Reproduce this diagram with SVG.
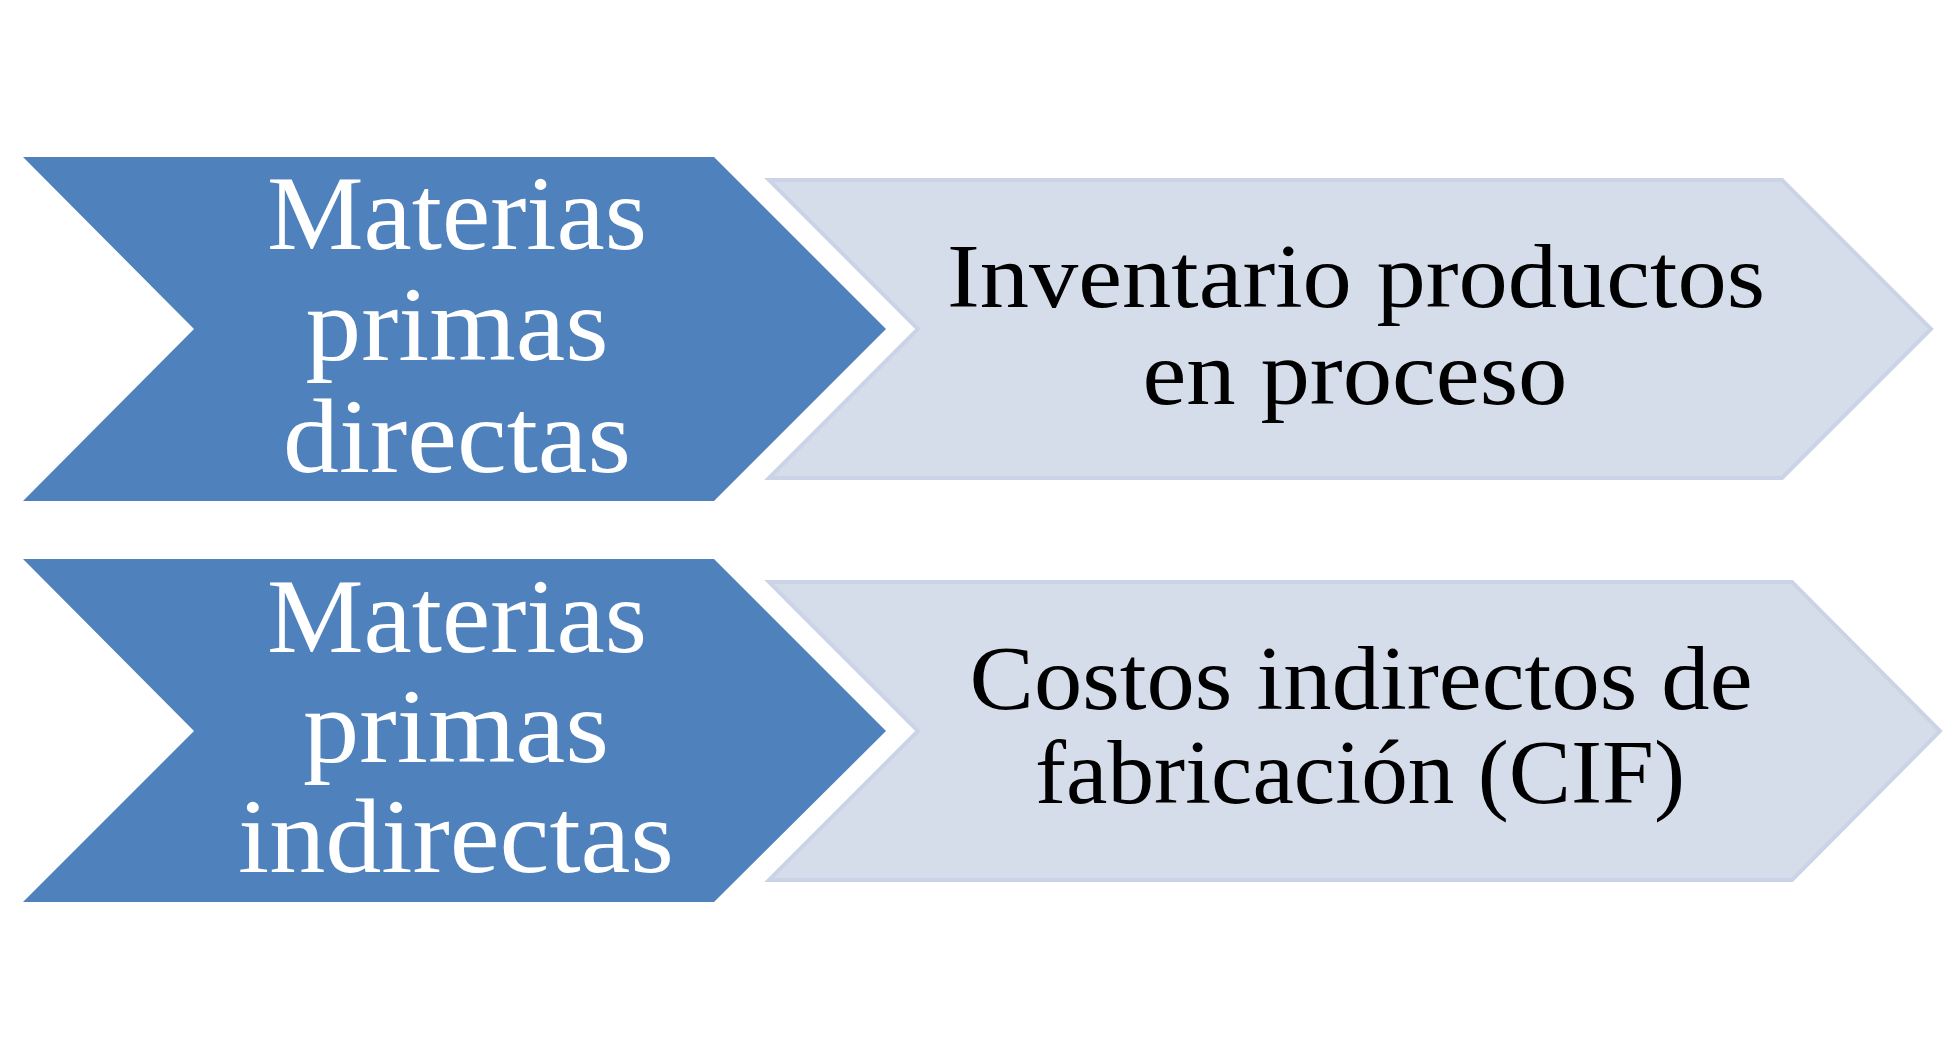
<svg xmlns="http://www.w3.org/2000/svg" width="1943" height="1059" viewBox="0 0 1943 1059">
<style>
.dark{fill:#4F81BD;}
.light{fill:#D6DDEA;stroke:#CBD4E6;stroke-width:4;stroke-linejoin:miter;}
.wt{font-family:"Liberation Serif","Times New Roman",serif;font-size:106px;fill:#FFFFFF;text-anchor:middle;}
.bt{font-family:"Liberation Serif","Times New Roman",serif;font-size:90px;fill:#000000;text-anchor:middle;}
</style>
<rect width="1943" height="1059" fill="#FFFFFF"/>
<g id="node-mpd">
<polygon class="dark" points="23,157 714,157 886,329 714,501 23,501 194,329"/>
<text class="wt" x="457" y="249" textLength="380" lengthAdjust="spacingAndGlyphs">Materias</text>
<text class="wt" x="457" y="360" textLength="303" lengthAdjust="spacingAndGlyphs">primas</text>
<text class="wt" x="457" y="472" textLength="348" lengthAdjust="spacingAndGlyphs">directas</text>
</g>
<g id="node-ipp">
<polygon class="light" points="769,180 1782,180 1931,329 1782,478 769,478 918,329"/>
<text class="bt" x="1356" y="307" textLength="818" lengthAdjust="spacingAndGlyphs">Inventario productos</text>
<text class="bt" x="1355" y="404" textLength="425" lengthAdjust="spacingAndGlyphs">en proceso</text>
</g>
<g id="node-mpi">
<polygon class="dark" points="23,559 714,559 886,731 714,902 23,902 194,731"/>
<text class="wt" x="457" y="652" textLength="380" lengthAdjust="spacingAndGlyphs">Materias</text>
<text class="wt" x="456" y="762" textLength="306" lengthAdjust="spacingAndGlyphs">primas</text>
<text class="wt" x="456" y="872" textLength="436" lengthAdjust="spacingAndGlyphs">indirectas</text>
</g>
<g id="node-cif">
<polygon class="light" points="769,582 1792,582 1940,731 1792,880 769,880 918,731"/>
<text class="bt" x="1361" y="709" textLength="783" lengthAdjust="spacingAndGlyphs">Costos indirectos de</text>
<text class="bt" x="1360" y="803" textLength="650" lengthAdjust="spacingAndGlyphs">fabricación (CIF)</text>
</g>
<g id="connectors"></g>
</svg>
